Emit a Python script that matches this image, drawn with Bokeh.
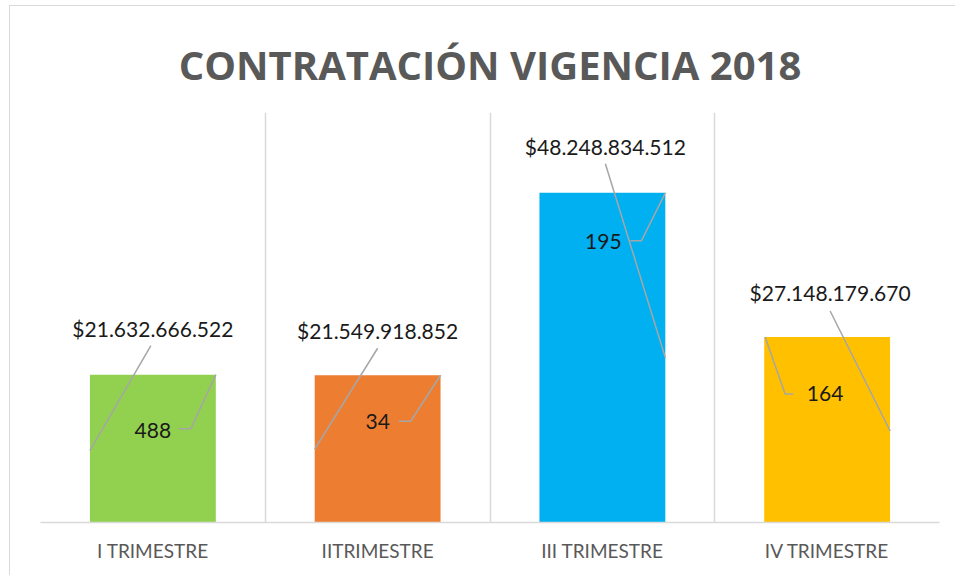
from bokeh.plotting import figure
from bokeh.models import Range1d, FixedTicker
from bokeh.core.properties import value
from bokeh.embed import file_html
from bokeh.resources import INLINE

# ---- data ----
categories = ["I TRIMESTRE", "IITRIMESTRE", "III TRIMESTRE", "IV TRIMESTRE"]
amounts = [21632666522, 21549918852, 48248834512, 27148179670]
counts = [488, 34, 195, 164]
colors = ["#92D050", "#ED7D31", "#00B0F0", "#FFC000"]
y_max = 60e9

# ---- layout ----
W, H = 946, 570
ML, MR, MT, MB = 30, 17, 106, 54
FW = W - ML - MR
FH = H - MT - MB
px_x = FW / len(categories)
px_y = FH / y_max
BAR_W = 0.56

def fmt(v):
    return "$" + f"{v:,}".replace(",", ".")

# label placements in pixels relative to (bar centre, bar top); +y is downwards
amount_off = [(0, -46), (0, -45), (3, -46), (3, -44)]
amount_leader = [[(-2, -29), (-63, 76)], [(0, -27), (-63, 74)],
                 [(3, -29), (63, 165)], [(3, -26), (63, 94)]]
count_off = [(0, 56), (0, 46), (1, 49), (-2, 57)]
count_leader = [[(26, 54), (38, 54), (63, 0)], [(21, 46), (33, 46), (63, 0)],
                [(28, 48), (39, 48), (63, 0)], [(-34, 57), (-42, 57), (-62, 0)]]

xs = [i + 0.5 for i in range(len(categories))]

def to_data(i, dx, dy):
    return xs[i] + dx / px_x, amounts[i] - dy / px_y

p = figure(width=W, height=H, output_backend="svg", toolbar_location=None,
           x_range=Range1d(0, len(categories)), y_range=Range1d(0, y_max),
           y_axis_location=None, min_border_left=ML, min_border_right=MR,
           min_border_top=MT, min_border_bottom=MB,
           styles={"margin-left": "9px", "margin-top": "5px",
                   "border-left": "1px solid #d9d9d9", "border-top": "1px solid #d9d9d9"})
p.outline_line_color = None
p.background_fill_color = "white"
p.border_fill_color = "white"

p.title.text = "CONTRATACIÓN VIGENCIA 2018"
p.title.align = "center"
p.title.text_font = "Open Sans"
p.title.text_font_size = "40px"
p.title.text_font_style = "bold"
p.title.text_color = "#595959"
p.title.standoff = 41

p.ygrid.visible = False
p.xgrid.ticker = FixedTicker(ticks=list(range(len(categories) + 1)))
p.xgrid.grid_line_color = "#d9d9d9"
p.xgrid.grid_line_width = 1.5

p.xaxis.ticker = FixedTicker(ticks=xs)
p.xaxis.major_label_overrides = {x: c for x, c in zip(xs, categories)}
p.xaxis.major_tick_line_color = None
p.xaxis.minor_tick_line_color = None
p.xaxis.major_tick_out = 0
p.xaxis.major_tick_in = 0
p.xaxis.axis_line_color = "#d9d9d9"
p.xaxis.axis_line_width = 1.5
p.xaxis.major_label_standoff = 16
p.xaxis.major_label_text_font = "Lato"
p.xaxis.major_label_text_font_size = "19px"
p.xaxis.major_label_text_color = "#595959"

p.vbar(x=xs, top=amounts, width=BAR_W, color=colors, line_color=None)

# leader lines
lx, ly = [], []
for i in range(len(categories)):
    for seg in (amount_leader[i], count_leader[i]):
        pts = [to_data(i, dx, dy) for dx, dy in seg]
        lx.append([q[0] for q in pts])
        ly.append([q[1] for q in pts])
p.multi_line(lx, ly, line_color="#a6a6a6", line_width=1.5)

# labels
ax, ay = zip(*[to_data(i, *amount_off[i]) for i in range(len(categories))])
p.text(x=list(ax), y=list(ay), text=[fmt(v) for v in amounts],
       text_align="center", text_baseline="middle", text_font=value("Lato"),
       text_font_size="21px", text_color="#1a1a1a")
cx, cy = zip(*[to_data(i, *count_off[i]) for i in range(len(categories))])
p.text(x=list(cx), y=list(cy), text=[str(c) for c in counts],
       text_align="center", text_baseline="middle", text_font=value("Lato"),
       text_font_size="21px", text_color="#1a1a1a")

open("out.html", "w").write(file_html(p, INLINE))
